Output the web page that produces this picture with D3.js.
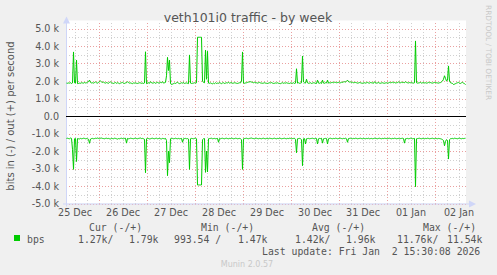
<!DOCTYPE html>
<html><head><meta charset="utf-8">
<script src="https://cdn.jsdelivr.net/npm/d3@7"></script>
<style>
html,body{margin:0;padding:0;background:#f0f0f0;}
svg{display:block;}
text{font-family:"DejaVu Sans",sans-serif;}
.mono{font-family:"DejaVu Sans Mono",monospace;font-size:9.8px;fill:#555;}
</style></head><body>
<svg id="c" width="497" height="275"></svg>
<script>
// Time window: 400 samples of 30 min, ending at last update
const startTime = new Date(2025, 11, 25, 7, 30, 8);
const endTime = new Date(2026, 0, 2, 15, 30, 8);
const stepMinutes = 30;

// out (+) bits per second
const outValues = [
1880,1870,1890,1880,1900,1860,1890,3660,1900,1880,3200,1850,1860,1880,1870,1900,1890,1880,1910,1890,
1900,1930,1960,2050,1920,1890,1900,1880,1910,1950,1900,1880,1920,1960,2000,1950,1920,1940,1900,1880,
1910,1890,1870,1920,1950,1900,1880,1860,1890,1910,1870,1900,1880,1850,1880,1900,1920,1880,1860,1890,
1900,1960,1910,1880,1890,1870,1850,1890,1880,1900,1870,1860,1880,1900,1890,1870,1880,1860,1890,3670,
1850,1880,1900,1870,1960,1900,1880,1890,1910,1870,1900,1920,1890,1880,1940,1900,1960,1880,1900,1920,
2300,3350,2600,3200,1850,1800,1820,1850,1880,1860,1900,1920,1880,1850,1870,1900,1880,1920,1860,1880,
1890,1870,1850,3490,1880,1860,1870,1880,1900,1890,1900,4500,4500,4500,4500,4500,2000,1920,1900,3770,
2100,3700,1880,1870,1890,1860,1840,1880,1850,1900,1860,1880,1870,1920,1880,1850,1890,1900,1860,1880,
1900,1890,1920,1880,1900,1910,1870,1880,1900,1890,1870,1860,1880,1900,1890,2000,3660,1880,1870,1890,
1900,1920,1940,1950,1960,1940,1920,1900,1930,1910,1900,1880,1900,1920,1890,1880,1870,1880,1900,1880,
1870,1860,1880,1900,1890,1910,1880,1860,1870,1890,1880,1900,1870,1860,1850,1880,1900,1870,1890,1880,
1900,1880,1870,1860,1890,1880,1870,1900,1860,1880,2700,1880,1900,1870,1880,1900,3430,1950,1900,1880,
2100,1900,1870,1880,1900,1860,1880,1900,1890,1870,1860,2050,1880,1870,1900,1860,2050,1880,1870,1900,
1890,2050,1880,1900,1890,1910,1920,1900,1930,1920,1900,1910,1920,1940,1900,1930,1920,1950,1960,1940,
1980,2050,1960,1940,1950,1920,1930,1900,1910,1920,1900,1880,1890,1910,1900,1880,1870,1890,1900,1880,
1900,1920,1890,1880,1910,1900,1890,1870,1960,1900,1880,1890,1910,1880,1870,1890,1900,1880,1870,1890,
1900,1880,1890,1920,1900,1910,1930,1900,1920,1890,1900,1910,1950,1920,1900,1930,1910,1920,1900,1960,
1920,1900,1890,1910,1900,1920,1890,1880,1900,4290,1900,1880,1890,1900,1920,1880,1900,1910,1890,1900,
1880,1890,1920,1900,1910,1890,1880,1900,1920,1910,1900,1890,1880,1900,1910,1950,2000,2100,2300,2150,
2000,2050,2860,2000,1900,1880,1860,1800,1820,1850,1880,1900,1920,1880,1860,1900,1920,1880,1850,1790
];

// in (-) bits per second (drawn below zero)
const inValues = [
1280,1270,1290,1300,1260,1280,1900,3050,1300,1280,2600,1290,1300,1310,1280,1300,1290,1270,1280,1300,
1290,1300,1330,1560,1320,1290,1280,1300,1290,1270,1280,1260,1280,1300,1270,1260,1280,1290,1300,1280,
1270,1290,1280,1300,1310,1280,1290,1300,1270,1280,1300,1320,1290,1300,1280,1270,1290,1300,1280,1270,
1550,1280,1300,1290,1270,1280,1290,1300,1280,1270,1290,1300,1280,1270,1260,1290,1280,1300,1330,3240,
1300,1280,1290,1310,1300,1280,1270,1290,1300,1280,1270,1300,1290,1280,1300,1310,1280,1290,1300,1280,
1400,3410,2000,2670,1300,1290,1280,1300,1290,1270,1290,1300,1280,1300,1290,1280,1500,1300,1290,1280,
1300,1290,1320,3050,1300,1280,1290,1300,1280,1270,1300,3940,3940,3940,3940,3940,1350,1300,1290,3220,
2000,3200,1300,1290,1280,1270,1300,1290,1280,1300,1290,1280,1500,1290,1300,1280,1270,1290,1300,1280,
1270,1290,1300,1280,1290,1270,1280,1300,1290,1270,1280,1300,1290,1280,1300,1350,3050,1300,1290,1280,
1270,1290,1300,1280,1270,1260,1280,1290,1300,1280,1270,1290,1300,1280,1290,1300,1280,1270,1290,1300,
1280,1290,1300,1270,1280,1290,1300,1280,1270,1290,1300,1280,1290,1270,1280,1300,1290,1280,1270,1290,
1300,1280,1290,1270,1280,1300,1290,1280,1270,1350,2100,1300,1290,1280,1300,1350,2840,1300,1290,1600,
1300,1290,1280,1300,1290,1280,1270,1290,1300,1280,1290,1600,1300,1280,1290,1270,1550,1300,1290,1280,
1290,1600,1300,1280,1270,1290,1300,1280,1290,1270,1280,1300,1290,1280,1270,1290,1300,1280,1290,1270,
1300,1500,1290,1280,1270,1290,1300,1280,1290,1270,1280,1300,1290,1280,1270,1290,1300,1280,1290,1300,
1280,1290,1270,1300,1290,1280,1300,1290,1270,1280,1290,1300,1280,1270,1290,1300,1280,1290,1270,1280,
1290,1300,1280,1270,1290,1300,1280,1290,1270,1280,1300,1290,1280,1300,1290,1280,1270,1290,1550,1300,
1290,1280,1300,1290,1270,1280,1300,1290,1280,4040,1300,1290,1280,1270,1290,1300,1280,1290,1300,1280,
1290,1270,1280,1300,1290,1280,1270,1290,1300,1280,1290,1300,1280,1290,1300,1320,1350,1400,1700,1450,
1350,1400,2460,1350,1300,1290,1280,1300,1270,1280,1290,1300,1280,1270,1290,1300,1280,1290,1280,1270
];

const yTicks = [5000,4000,3000,2000,1000,0,-1000,-2000,-3000,-4000,-5000];
const xTickLabels = ["25 Dec","26 Dec","27 Dec","28 Dec","29 Dec","30 Dec","31 Dec","01 Jan","02 Jan"];
const legendHeaders = ["Cur (-/+)","Min (-/+)","Avg (-/+)","Max (-/+)"];
const legendValues = ["1.27k/","1.79k","993.54 /","1.47k","1.42k/","1.96k","11.76k/","11.54k"];
const titleText = "veth101i0 traffic - by week";
const yLabel = "bits in (-) / out (+) per second";
const lastUpdate = "Last update: Fri Jan  2 15:30:08 2026";

const svg = d3.select("#c");
const L = 66, R = 466, T = 28.5, B = 203.5;
const x = d3.scaleTime().domain([startTime, endTime]).range([L, R]);
const y = d3.scaleLinear().domain([-5000, 5000]).range([B, T]);

svg.append("rect").attr("x", L).attr("y", T - 8).attr("width", R - L).attr("height", B - T + 8).attr("fill", "#fff");

const grid = svg.append("g").attr("shape-rendering", "crispEdges");
// minor horizontal grid
d3.range(-4500, 5000, 1000).forEach(v => {
  grid.append("line").attr("x1", L).attr("x2", R).attr("y1", Math.round(y(v)) + 0.5).attr("y2", Math.round(y(v)) + 0.5)
    .attr("stroke", "#d0d0d0").attr("stroke-dasharray", "1,2");
});
// minor vertical grid every 6 hours
const sixH = d3.timeHour.every(6).range(startTime, endTime);
sixH.forEach(t => {
  if (t.getHours() !== 0) grid.append("line").attr("x1", Math.round(x(t)) + 0.5).attr("x2", Math.round(x(t)) + 0.5)
    .attr("y1", T - 6).attr("y2", B).attr("stroke", "#d0d0d0").attr("stroke-dasharray", "1,2");
});
// major grid
yTicks.forEach(v => {
  if (v === 0) return;
  grid.append("line").attr("x1", L).attr("x2", R).attr("y1", Math.round(y(v)) + 0.5).attr("y2", Math.round(y(v)) + 0.5)
    .attr("stroke", "#eaa0a0").attr("stroke-dasharray", "1,2");
});
d3.timeDay.range(startTime, endTime).forEach(t => {
  grid.append("line").attr("x1", Math.round(x(t)) + 0.5).attr("x2", Math.round(x(t)) + 0.5)
    .attr("y1", T - 6).attr("y2", B).attr("stroke", "#eaa0a0").attr("stroke-dasharray", "1,2");
});

// axes (light blue)
const ax = svg.append("g");
ax.append("line").attr("x1", L + 0.5).attr("x2", L + 0.5).attr("y1", B + 3).attr("y2", T - 6).attr("stroke", "#CFD6F8");
ax.append("path").attr("d", `M${L - 3},${T - 5} L${L + 0.5},${T - 12} L${L + 4},${T - 5} Z`).attr("fill", "#CFD6F8");
ax.append("line").attr("x1", L - 3).attr("x2", R + 4).attr("y1", B + 0.5).attr("y2", B + 0.5).attr("stroke", "#CFD6F8");
ax.append("path").attr("d", `M${R + 3},${B - 3} L${R + 10},${B + 0.5} L${R + 3},${B + 4} Z`).attr("fill", "#CFD6F8");

// y tick labels
const fmt = v => v === 0 ? "0.0" : (v / 1000).toFixed(1) + " k";
svg.append("g").selectAll("text").data(yTicks).join("text")
  .attr("x", 59).attr("y", d => y(d) + 3.5).attr("text-anchor", "end")
  .attr("font-size", "9.6px").attr("fill", "#555").text(fmt);

// x tick labels at noon
const noons = d3.timeDay.range(d3.timeDay.floor(startTime), endTime).map(d => d3.timeHour.offset(d, 12));
svg.append("g").selectAll("text").data(noons).join("text")
  .attr("x", d => x(d)).attr("y", 215.5).attr("text-anchor", "middle")
  .attr("font-size", "9.6px").attr("fill", "#555").text((d, i) => xTickLabels[i]);

// series
const times = outValues.map((_, i) => d3.timeMinute.offset(startTime, i * stepMinutes + 15));
const lineOut = d3.line().x((d, i) => x(times[i])).y(d => y(d));
const lineIn = d3.line().x((d, i) => x(times[i])).y(d => y(-d));
svg.append("path").datum(outValues).attr("d", lineOut).attr("fill", "none").attr("stroke", "#00cc00").attr("stroke-width", 1);
svg.append("path").datum(inValues).attr("d", lineIn).attr("fill", "none").attr("stroke", "#00cc00").attr("stroke-width", 1);

// zero line
svg.append("line").attr("x1", L).attr("x2", R).attr("y1", Math.round(y(0)) + 0.5).attr("y2", Math.round(y(0)) + 0.5)
  .attr("stroke", "#000").attr("shape-rendering", "crispEdges");

// title
svg.append("text").attr("x", 248).attr("y", 22).attr("text-anchor", "middle")
  .attr("font-size", "12.5px").attr("fill", "#555").text(titleText);
// y label
svg.append("text").attr("transform", `translate(14,${y(0)}) rotate(-90)`).attr("text-anchor", "middle")
  .attr("font-size", "10px").attr("fill", "#555").text(yLabel);
// rrdtool credit
svg.append("text").attr("transform", "translate(485.5,5) rotate(90)").attr("text-anchor", "start")
  .attr("font-size", "7.4px").attr("fill", "#c8c8c8").text("RRDTOOL / TOBI OETIKER");

// legend
const hx = [89, 201, 312, 423];
svg.append("g").selectAll("text").data(legendHeaders).join("text").attr("class", "mono")
  .attr("x", (d, i) => hx[i]).attr("y", 231).text(d => d);
svg.append("rect").attr("x", 14).attr("y", 235).attr("width", 6).attr("height", 6).attr("fill", "#00cc00");
svg.append("text").attr("class", "mono").attr("x", 27).attr("y", 243).text("bps");
const vx = [78, 129, 174, 238, 295, 346, 397, 447];
svg.append("g").selectAll("text").data(legendValues).join("text").attr("class", "mono")
  .attr("x", (d, i) => vx[i]).attr("y", 243).text(d => d);
svg.append("text").attr("class", "mono").attr("x", 262).attr("y", 255).attr("xml:space", "preserve")
  .style("white-space", "pre").text(lastUpdate);
svg.append("text").attr("x", 247).attr("y", 267).attr("text-anchor", "middle")
  .attr("font-size", "8px").attr("fill", "#c8c8c8").text("Munin 2.0.57");
</script>
</body></html>
